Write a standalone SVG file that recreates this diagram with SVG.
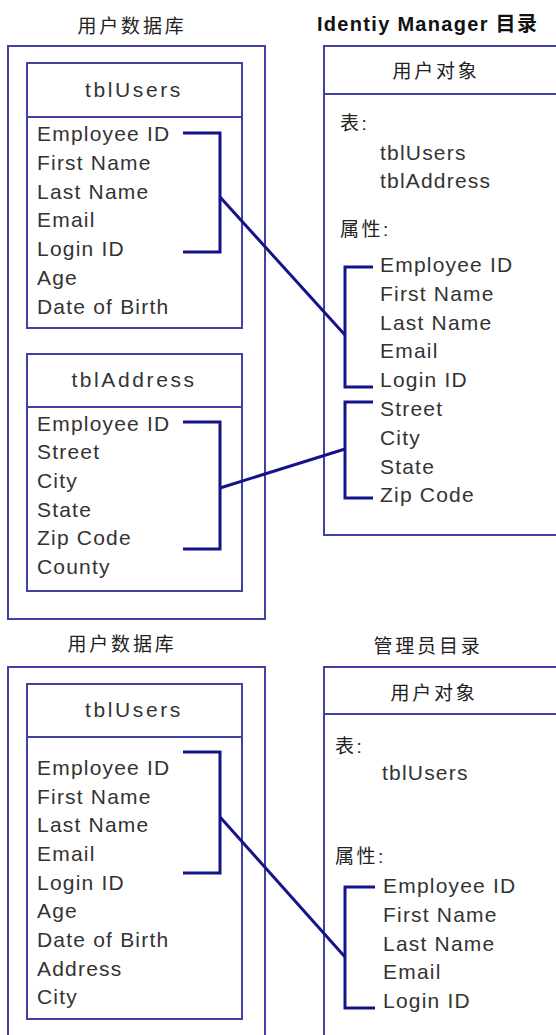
<svg xmlns="http://www.w3.org/2000/svg" width="556" height="1035" viewBox="0 0 556 1035">
<style>
.box{fill:none;stroke:#4242a2;stroke-width:2}
.con{fill:none;stroke:#14148a;stroke-width:3;stroke-linejoin:miter}
.t{font-family:"Liberation Sans",Arial,sans-serif;font-size:21px;fill:#333;letter-spacing:1.2px}
.h{font-family:"Liberation Sans",Arial,sans-serif;font-size:21px;fill:#333;letter-spacing:2.6px;text-anchor:middle}
.cn{font-family:"Liberation Sans","Noto Sans CJK SC",sans-serif;font-size:19px;fill:#222;letter-spacing:2.5px}
.title{font-family:"Liberation Sans","Noto Sans CJK SC",sans-serif;font-size:19px;fill:#222;letter-spacing:2.8px;text-anchor:middle}
.bt{font-family:"Liberation Sans","Noto Sans CJK SC",sans-serif;font-size:20px;font-weight:bold;fill:#111;letter-spacing:1.3px}
</style>
<rect width="556" height="1035" fill="#fff"/>

<g id="top-db">
<text class="title" x="132" y="33">用户数据库</text>
<rect class="box" x="8" y="46" width="257" height="573"/>
</g>
<g id="top-tblUsers">
<rect class="box" x="27" y="63" width="215" height="265"/>
<line class="box" x1="27" y1="117" x2="242" y2="117"/>
<text class="h" x="134" y="97">tblUsers</text>
<text class="t" x="37" y="141">Employee ID</text>
<text class="t" x="37" y="170">First Name</text>
<text class="t" x="37" y="199">Last Name</text>
<text class="t" x="37" y="227">Email</text>
<text class="t" x="37" y="256">Login ID</text>
<text class="t" x="37" y="285">Age</text>
<text class="t" x="37" y="314">Date of Birth</text>
</g>
<g id="top-tblAddress">
<rect class="box" x="27" y="354" width="215" height="237"/>
<line class="box" x1="27" y1="407" x2="242" y2="407"/>
<text class="h" x="134" y="387">tblAddress</text>
<text class="t" x="37" y="431">Employee ID</text>
<text class="t" x="37" y="459">Street</text>
<text class="t" x="37" y="488">City</text>
<text class="t" x="37" y="517">State</text>
<text class="t" x="37" y="545">Zip Code</text>
<text class="t" x="37" y="574">County</text>
</g>
<g id="top-idm">
<text class="bt" x="317" y="31">Identiy Manager 目录</text>
<rect class="box" x="324" y="46" width="260" height="489"/>
<line class="box" x1="324" y1="94" x2="584" y2="94"/>
<text class="title" x="436" y="78">用户对象</text>
<text class="cn" x="340" y="130">表:</text>
<text class="t" x="380" y="160">tblUsers</text>
<text class="t" x="380" y="188">tblAddress</text>
<text class="cn" x="340" y="236">属性:</text>
<text class="t" x="380" y="272">Employee ID</text>
<text class="t" x="380" y="301">First Name</text>
<text class="t" x="380" y="330">Last Name</text>
<text class="t" x="380" y="358">Email</text>
<text class="t" x="380" y="387">Login ID</text>
<text class="t" x="380" y="416">Street</text>
<text class="t" x="380" y="445">City</text>
<text class="t" x="380" y="474">State</text>
<text class="t" x="380" y="502">Zip Code</text>
</g>

<g id="bottom-db">
<text class="title" x="122" y="651">用户数据库</text>
<rect class="box" x="8" y="667" width="257" height="400"/>
</g>
<g id="bottom-tblUsers">
<rect class="box" x="27" y="684" width="215" height="335"/>
<line class="box" x1="27" y1="737" x2="242" y2="737"/>
<text class="h" x="134" y="717">tblUsers</text>
<text class="t" x="37" y="775">Employee ID</text>
<text class="t" x="37" y="804">First Name</text>
<text class="t" x="37" y="832">Last Name</text>
<text class="t" x="37" y="861">Email</text>
<text class="t" x="37" y="890">Login ID</text>
<text class="t" x="37" y="918">Age</text>
<text class="t" x="37" y="947">Date of Birth</text>
<text class="t" x="37" y="976">Address</text>
<text class="t" x="37" y="1004">City</text>
</g>
<g id="bottom-admin">
<text class="title" x="428" y="653">管理员目录</text>
<rect class="box" x="324" y="667" width="260" height="400"/>
<line class="box" x1="324" y1="714" x2="584" y2="714"/>
<text class="title" x="434" y="700">用户对象</text>
<text class="cn" x="335" y="753">表:</text>
<text class="t" x="382" y="780">tblUsers</text>
<text class="cn" x="335" y="863">属性:</text>
<text class="t" x="383" y="893">Employee ID</text>
<text class="t" x="383" y="922">First Name</text>
<text class="t" x="383" y="951">Last Name</text>
<text class="t" x="383" y="979">Email</text>
<text class="t" x="383" y="1008">Login ID</text>
</g>

<g id="connectors">
<path class="con" d="M183,133 H220 V252 H183"/>
<path class="con" d="M220,197 L345,335"/>
<path class="con" d="M373,267 H345 V387 H373"/>
<path class="con" d="M183,422 H220 V549 H183"/>
<path class="con" d="M220,488 L345,449"/>
<path class="con" d="M373,402 H345 V498 H373"/>
<path class="con" d="M183,752 H220 V873 H183"/>
<path class="con" d="M220,817 L345,957"/>
<path class="con" d="M375,887 H345 V1008 H375"/>
</g>
</svg>
